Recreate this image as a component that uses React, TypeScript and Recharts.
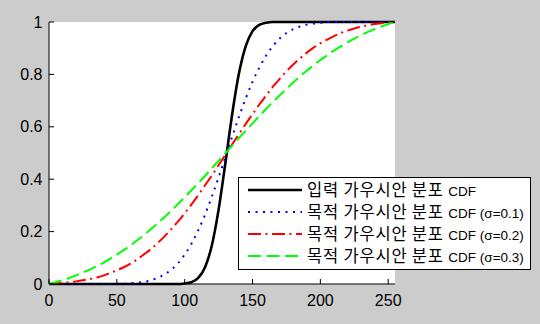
import React from 'react';
import { CartesianGrid, Legend, Line, LineChart, XAxis, YAxis } from 'recharts';

const xValues = [
  0, 5, 10, 15, 20, 25, 30, 35, 40, 45, 50, 55, 60, 65, 70, 75, 80, 85, 90, 95,
  100, 105, 110, 115, 120, 125, 130, 135, 140, 145, 150, 155, 160, 165, 170, 175,
  180, 185, 190, 195, 200, 205, 210, 215, 220, 225, 230, 235, 240, 245, 250, 255,
];

// 입력 가우시안 분포 CDF
const inputCdf = [
  0, 0, 0, 0, 0, 0, 0, 0, 0, 0, 0, 0, 0, 0, 0, 0, 0, 0, 0, 0,
  0.002, 0.007, 0.023, 0.064, 0.147, 0.284, 0.462, 0.648, 0.804, 0.908, 0.965, 0.989, 0.997, 1, 1, 1,
  1, 1, 1, 1, 1, 1, 1, 1, 1, 1, 1, 1, 1, 1, 1, 1,
];

// 목적 가우시안 분포 CDF (σ=0.1)
const target01 = [
  0, 0, 0, 0, 0, 0, 0, 0, 0, 0, 0.001, 0.001, 0.003, 0.005, 0.008, 0.014, 0.023, 0.036, 0.054, 0.079,
  0.112, 0.154, 0.205, 0.265, 0.333, 0.407, 0.484, 0.562, 0.638, 0.708, 0.772, 0.826, 0.872, 0.908, 0.937, 0.958,
  0.973, 0.983, 0.99, 0.994, 0.997, 1, 1, 1, 1, 1, 1, 1, 1, 1, 1, 1,
];

// 목적 가우시안 분포 CDF (σ=0.2)
const target02 = [
  0, 0.002, 0.004, 0.007, 0.01, 0.014, 0.019, 0.025, 0.032, 0.042, 0.052, 0.064, 0.078, 0.094, 0.113, 0.133, 0.156, 0.181, 0.209, 0.238,
  0.27, 0.304, 0.339, 0.377, 0.414, 0.454, 0.493, 0.533, 0.572, 0.611, 0.648, 0.685, 0.719, 0.753, 0.783, 0.812,
  0.838, 0.861, 0.883, 0.902, 0.919, 0.933, 0.946, 0.958, 0.967, 0.975, 0.982, 0.987, 0.992, 0.995, 0.998, 1,
];

// 목적 가우시안 분포 CDF (σ=0.3)
const target03 = [
  0, 0.007, 0.015, 0.023, 0.033, 0.044, 0.055, 0.068, 0.081, 0.096, 0.112, 0.129, 0.147, 0.167, 0.187, 0.209, 0.231, 0.255, 0.279, 0.305,
  0.331, 0.358, 0.385, 0.413, 0.442, 0.47, 0.499, 0.528, 0.557, 0.585, 0.613, 0.641, 0.668, 0.695, 0.72, 0.745,
  0.769, 0.793, 0.814, 0.835, 0.855, 0.873, 0.891, 0.907, 0.922, 0.937, 0.95, 0.962, 0.973, 0.983, 0.992, 1,
];

const xTicks = [0, 50, 100, 150, 200, 250];
const yTicks = [0, 0.2, 0.4, 0.6, 0.8, 1];

const data = xValues.map((x, i) => ({
  x,
  input: inputCdf[i],
  s1: target01[i],
  s2: target02[i],
  s3: target03[i],
}));

const series = [
  { key: 'input', label: '입력 가우시안 분포', note: 'CDF', color: '#000000', width: 2.6, dash: undefined },
  { key: 's1', label: '목적 가우시안 분포', note: 'CDF (σ=0.1)', color: '#0000ff', width: 2, dash: '2 5.5' },
  { key: 's2', label: '목적 가우시안 분포', note: 'CDF (σ=0.2)', color: '#ff0000', width: 2, dash: '13 4.5 2 4.5' },
  { key: 's3', label: '목적 가우시안 분포', note: 'CDF (σ=0.3)', color: '#00ff00', width: 2, dash: '13 5.5' },
];

const tickFont = '"Liberation Sans", Arial, sans-serif';

const BottomTick = (props: any) => {
  const { x, y, payload } = props;
  return (
    <g>
      <line x1={x} y1={y} x2={x} y2={y - 5} stroke="#000" />
      <text x={x} y={y + 22} textAnchor="middle" fontSize={16} fontFamily={tickFont} fill="#000">
        {payload.value}
      </text>
    </g>
  );
};

const TopTick = (props: any) => {
  const { x, y } = props;
  return <line x1={x} y1={y} x2={x} y2={y + 5} stroke="#000" />;
};

const LeftTick = (props: any) => {
  const { x, y, payload } = props;
  return (
    <g>
      <line x1={x} y1={y} x2={x + 5} y2={y} stroke="#000" />
      <text x={x - 6.5} y={y + 5.5} textAnchor="end" fontSize={16} fontFamily={tickFont} fill="#000">
        {payload.value}
      </text>
    </g>
  );
};

const RightTick = (props: any) => {
  const { x, y } = props;
  return <line x1={x} y1={y} x2={x - 5} y2={y} stroke="#000" />;
};

const LegendBox = () => (
  <div
    style={{
      width: 291,
      height: 90,
      border: '1px solid #000',
      background: '#fff',
      paddingTop: 1,
      boxSizing: 'content-box',
    }}
  >
    {series.map((s) => (
      <div key={s.key} style={{ display: 'flex', alignItems: 'center', height: 22 }}>
        <svg width={64} height={22} style={{ flex: 'none' }}>
          <line
            x1={9}
            y1={11}
            x2={63}
            y2={11}
            stroke={s.color}
            strokeWidth={s.width}
            strokeDasharray={s.dash}
          />
        </svg>
        <span
          style={{
            marginLeft: 4,
            fontFamily: '"Noto Sans CJK KR", sans-serif',
            fontSize: 16.5,
            letterSpacing: 0.8,
            color: '#000',
            whiteSpace: 'nowrap',
            lineHeight: '22px',
          }}
        >
          {s.label}{' '}
          <span style={{ fontFamily: tickFont, fontSize: 13.5, letterSpacing: 0 }}>{s.note}</span>
        </span>
      </div>
    ))}
  </div>
);

export default function App() {
  return (
    <div style={{ position: 'absolute', left: 0, top: 0, width: 540, height: 324, background: '#cccccc' }}>
      <LineChart width={540} height={324} data={data} margin={{ top: 22, right: 145, bottom: 0, left: 0 }}>
        <CartesianGrid horizontal={false} vertical={false} fill="#ffffff" />
        <XAxis
          dataKey="x"
          type="number"
          domain={[0, 255]}
          ticks={xTicks}
          height={40}
          tickSize={0}
          tickMargin={0}
          tickLine={false}
          axisLine={{ stroke: '#000' }}
          tick={<BottomTick />}
          interval={0}
        />
        <XAxis
          xAxisId="top"
          orientation="top"
          dataKey="x"
          type="number"
          domain={[0, 255]}
          ticks={xTicks}
          height={0}
          tickSize={0}
          tickMargin={0}
          tickLine={false}
          axisLine={{ stroke: '#000' }}
          tick={<TopTick />}
          interval={0}
        />
        <YAxis
          type="number"
          domain={[0, 1]}
          ticks={yTicks}
          width={49}
          tickSize={0}
          tickMargin={0}
          tickLine={false}
          axisLine={{ stroke: '#000' }}
          tick={<LeftTick />}
          interval={0}
        />
        <YAxis
          yAxisId="right"
          orientation="right"
          type="number"
          domain={[0, 1]}
          ticks={yTicks}
          width={0}
          tickSize={0}
          tickMargin={0}
          tickLine={false}
          axisLine={{ stroke: '#000' }}
          tick={<RightTick />}
          interval={0}
        />
        {series.map((s) => (
          <Line
            key={s.key}
            type="monotone"
            dataKey={s.key}
            stroke={s.color}
            strokeWidth={s.width}
            strokeDasharray={s.dash}
            dot={false}
            activeDot={false}
            isAnimationActive={false}
          />
        ))}
        <Legend
          layout="vertical"
          align="center"
          verticalAlign="middle"
          content={<LegendBox />}
          wrapperStyle={{ left: 238, top: 177, width: 293, height: 93 }}
        />
      </LineChart>
    </div>
  );
}
